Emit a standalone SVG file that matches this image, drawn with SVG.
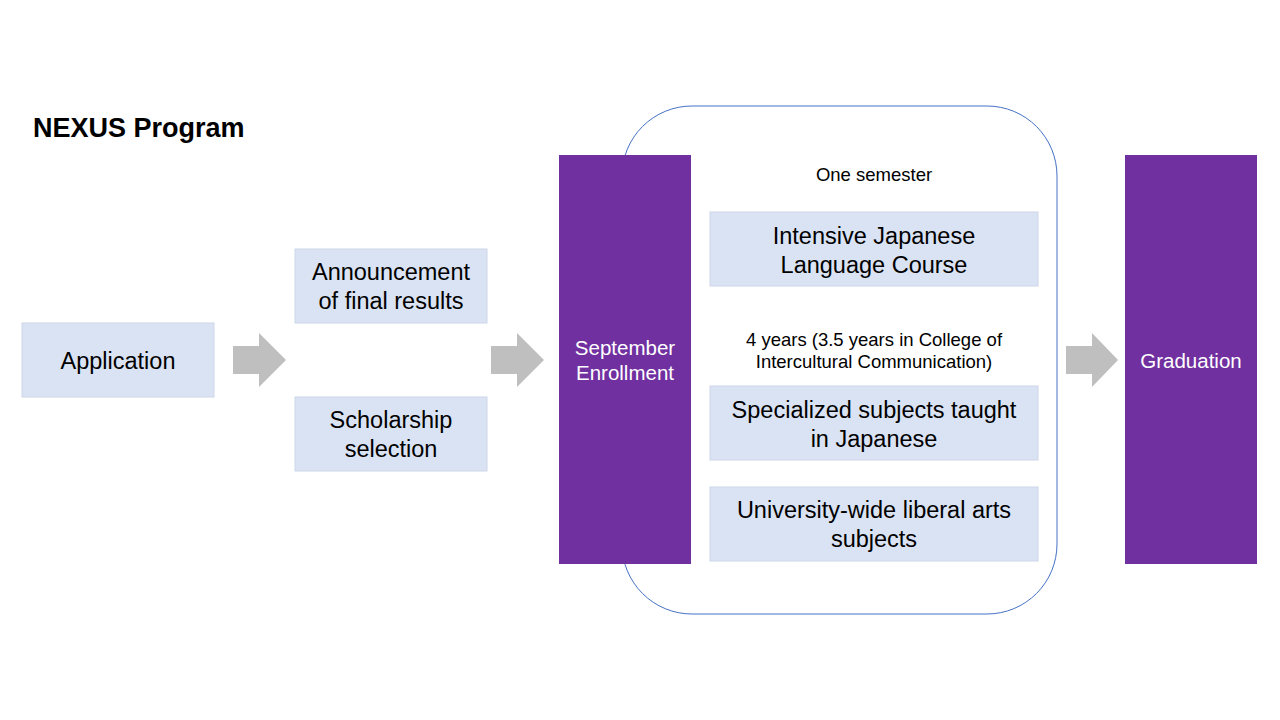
<svg xmlns="http://www.w3.org/2000/svg" width="1280" height="720" viewBox="0 0 1280 720">
<style>
.box{fill:#dae3f3;stroke:#cdd7e8;stroke-width:1}
.bar{fill:#7030a0}
.t{font-family:"Liberation Sans",Arial,sans-serif;font-size:23.5px;fill:#000;text-anchor:middle}
.s{font-family:"Liberation Sans",Arial,sans-serif;font-size:18.5px;fill:#000;text-anchor:middle}
.w{font-family:"Liberation Sans",Arial,sans-serif;font-size:20.5px;fill:#fff;text-anchor:middle}
.arr{fill:#bfbfbf}
</style>
<rect width="1280" height="720" fill="#fff"/>
<text x="33" y="137" font-family="Liberation Sans, Arial, sans-serif" font-size="27" font-weight="bold" fill="#000">NEXUS Program</text>
<g id="frame"><rect x="622" y="106" width="435" height="508" rx="70" ry="70" fill="none" stroke="#4472c4" stroke-width="1"/></g>
<g id="application"><rect class="box" x="22" y="323" width="192" height="74"/><text class="t" x="118" y="369">Application</text></g>
<g id="announcement"><rect class="box" x="295" y="249" width="192" height="74"/><text class="t" x="391" y="280">Announcement</text><text class="t" x="391" y="309">of final results</text></g>
<g id="scholarship"><rect class="box" x="295" y="397" width="192" height="74"/><text class="t" x="391" y="428">Scholarship</text><text class="t" x="391" y="457">selection</text></g>
<g id="enrollment"><rect class="bar" x="559" y="155" width="132" height="409"/><text class="w" x="625" y="355">September</text><text class="w" x="625" y="380">Enrollment</text></g>
<g id="semester-label"><text class="s" x="874" y="181">One semester</text></g>
<g id="intensive"><rect class="box" x="710" y="212" width="328" height="74"/><text class="t" x="874" y="244">Intensive Japanese</text><text class="t" x="874" y="273">Language Course</text></g>
<g id="years-label"><text class="s" x="874" y="346">4 years (3.5 years in College of</text><text class="s" x="874" y="368">Intercultural Communication)</text></g>
<g id="specialized"><rect class="box" x="710" y="386" width="328" height="74"/><text class="t" x="874" y="418">Specialized subjects taught</text><text class="t" x="874" y="447">in Japanese</text></g>
<g id="liberal"><rect class="box" x="710" y="487" width="328" height="74"/><text class="t" x="874" y="518">University-wide liberal arts</text><text class="t" x="874" y="547">subjects</text></g>
<g id="graduation"><rect class="bar" x="1125" y="155" width="132" height="409"/><text class="w" x="1191" y="368">Graduation</text></g>
<g id="connectors">
<path class="arr" d="M233,346 H259 V333 L286,360 L259,387 V374 H233 Z"/>
<path class="arr" d="M491,346 H517 V333 L544,360 L517,387 V374 H491 Z"/>
<path class="arr" d="M1066,346 H1092 V333 L1118,360 L1092,387 V374 H1066 Z"/>
</g>
</svg>
